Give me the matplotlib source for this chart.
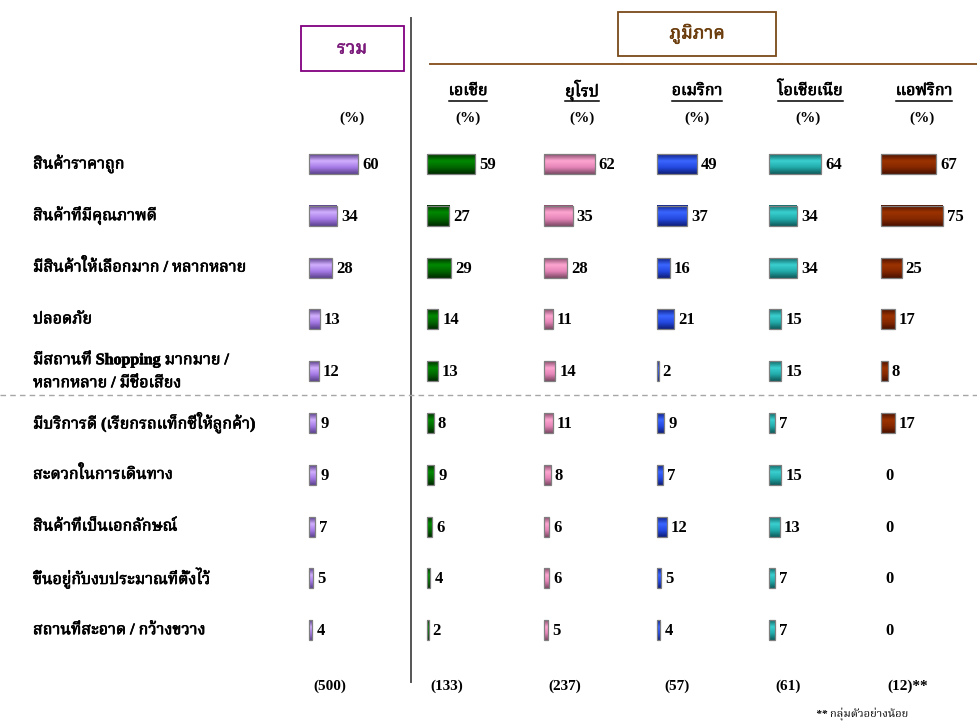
import matplotlib.pyplot as plt
import matplotlib.patheffects as pe
from matplotlib.colors import LinearSegmentedColormap
from matplotlib.patches import Rectangle
import numpy as np

reasons = [
    'สินค้าราคาถูก',
    'สินค้าที่มีคุณภาพดี',
    'มีสินค้าให้เลือกมาก / หลากหลาย',
    'ปลอดภัย',
    'มีสถานที่ Shopping มากมาย /\nหลากหลาย / มีชื่อเสียง',
    'มีบริการดี (เรียกรถแท็กซี่ให้ลูกค้า)',
    'สะดวกในการเดินทาง',
    'สินค้าที่เป็นเอกลักษณ์',
    'ขึ้นอยู่กับงบประมาณที่ตั้งไว้',
    'สถานที่สะอาด / กว้างขวาง',
]
total = [60, 34, 28, 13, 12, 9, 9, 7, 5, 4]
asia = [59, 27, 29, 14, 13, 8, 9, 6, 4, 2]
europe = [62, 35, 28, 11, 14, 11, 8, 6, 6, 5]
america = [49, 37, 16, 21, 2, 9, 7, 12, 5, 4]
oceania = [64, 34, 34, 15, 15, 7, 15, 13, 7, 7]
africa = [67, 75, 25, 17, 8, 17, 0, 0, 0, 0]
regions = ['เอเชีย', 'ยุโรป', 'อเมริกา', 'โอเชียเนีย', 'แอฟริกา']
bases = ['(500)', '(133)', '(237)', '(57)', '(61)', '(12)**']

THAI = ['Liberation Serif', 'Noto Serif Thai', 'Noto Sans Thai', 'DejaVu Sans']
NUM = ['Liberation Serif', 'DejaVu Serif']


def thai_text(x, y, s, color='black', **kw):
    # the Thai face has no bold, so thicken it with a thin stroke
    return ax.text(x, y, s, color=color, family=THAI, fontweight='bold',
                   path_effects=[pe.withStroke(linewidth=0.5, foreground=color)],
                   **kw)


# one axes covering the whole figure, in pixel units
fig = plt.figure(figsize=(9.77, 7.23), dpi=100)
ax = fig.add_axes([0, 0, 1, 1])
ax.set_xlim(0, 977)
ax.set_ylim(723, 0)
ax.axis('off')

series = [total, asia, europe, america, oceania, africa]
starts = [309, 427, 544, 657, 769, 881]
scale = 0.82
# dark edge / highlight / body / dark edge
shades = [
    ['#5a3f8c', '#d2b0ff', '#a57ae6', '#5e4390'],
    ['#003300', '#008a00', '#006600', '#002a00'],
    ['#8c5070', '#ffa6d2', '#e585b8', '#7e4a66'],
    ['#10238a', '#3a66ff', '#2449e0', '#0f1f7a'],
    ['#136b6b', '#3ad0d0', '#22aaaa', '#105c5c'],
    ['#4d1300', '#9c3300', '#862800', '#4a1200'],
]
y = 164 + np.arange(len(reasons)) * 51.8
bar_h = 20
grad = np.linspace(0, 1, 40).reshape(-1, 1)

for vals, x0, cols in zip(series, starts, shades):
    cmap = LinearSegmentedColormap.from_list('shade', cols)
    edges = ['#7f7f7f' if v > 0 else 'none' for v in vals]
    bars = ax.barh(y, np.array(vals) * scale, height=bar_h, left=x0,
                   color='none', edgecolor=edges, linewidth=0.9, zorder=3)
    for b, v in zip(bars, vals):
        bx, by, bw, bh = b.get_x(), b.get_y(), b.get_width(), b.get_height()
        if v > 0:
            ax.imshow(grad, cmap=cmap, aspect='auto', origin='upper',
                      extent=(bx, bx + bw, by + bh, by), zorder=2,
                      interpolation='bicubic')
        ax.text(bx + bw + 4, by + bh / 2 + 1, str(v), fontsize=12,
                fontweight='bold', family=NUM, va='center', ha='left')

ax.set_xlim(0, 977)
ax.set_ylim(723, 0)

# category labels
for yy, lab in zip(y, reasons):
    lines = lab.split('\n')
    offs = [0] if len(lines) == 1 else [-12, 12]
    for dy, line in zip(offs, lines):
        thai_text(33, yy + dy, line, fontsize=11.5, va='center', ha='left')

# separators
ax.plot([411, 411], [18, 682], color='#555555', lw=1.4)
ax.plot([0, 977], [395, 395], color='#a6a6a6', lw=1, ls=(0, (4, 3)))
ax.plot([430, 977], [64, 64], color='#8b5a2b', lw=1.4)

# header boxes
ax.add_patch(Rectangle((301, 26), 103, 45, fill=False, edgecolor='#800080', lw=1.3))
thai_text(352, 49, 'รวม', color='#7b1a7b', fontsize=13, ha='center', va='center')
ax.add_patch(Rectangle((618, 12), 158, 44, fill=False, edgecolor='#7b4a1a', lw=1.3))
thai_text(697, 34, 'ภูมิภาค', color='#6b3c0c', fontsize=13, ha='center', va='center')

# region headers, underlined
head_x = [468, 582, 697, 810, 924]
fig.canvas.draw()
inv = ax.transData.inverted()
for hx, name in zip(head_x, regions):
    t = thai_text(hx, 91, name, fontsize=11.5, ha='center', va='center')
    bb = t.get_window_extent(renderer=fig.canvas.get_renderer())
    (xa, _), (xb, _) = inv.transform([(bb.x0, bb.y0), (bb.x1, bb.y0)])
    ax.plot([xa, xb], [101, 101], color='black', lw=1.1)

pct_x = [352, 468, 582, 697, 808, 922]
for px in pct_x:
    ax.text(px, 118, '(%)', fontsize=11, fontweight='bold', family=NUM,
            ha='center', va='center')

# sample sizes
base_x = [313, 430, 548, 664, 775, 887]
for bx, lab in zip(base_x, bases):
    ax.text(bx, 686, lab, fontsize=11, fontweight='bold', family=NUM,
            ha='left', va='center')

ax.text(908, 714, '** กลุ่มตัวอย่างน้อย', fontsize=8, fontstyle='italic',
        fontweight='bold', family=THAI, ha='right', va='center')

fig.savefig('out.png', dpi=100)
